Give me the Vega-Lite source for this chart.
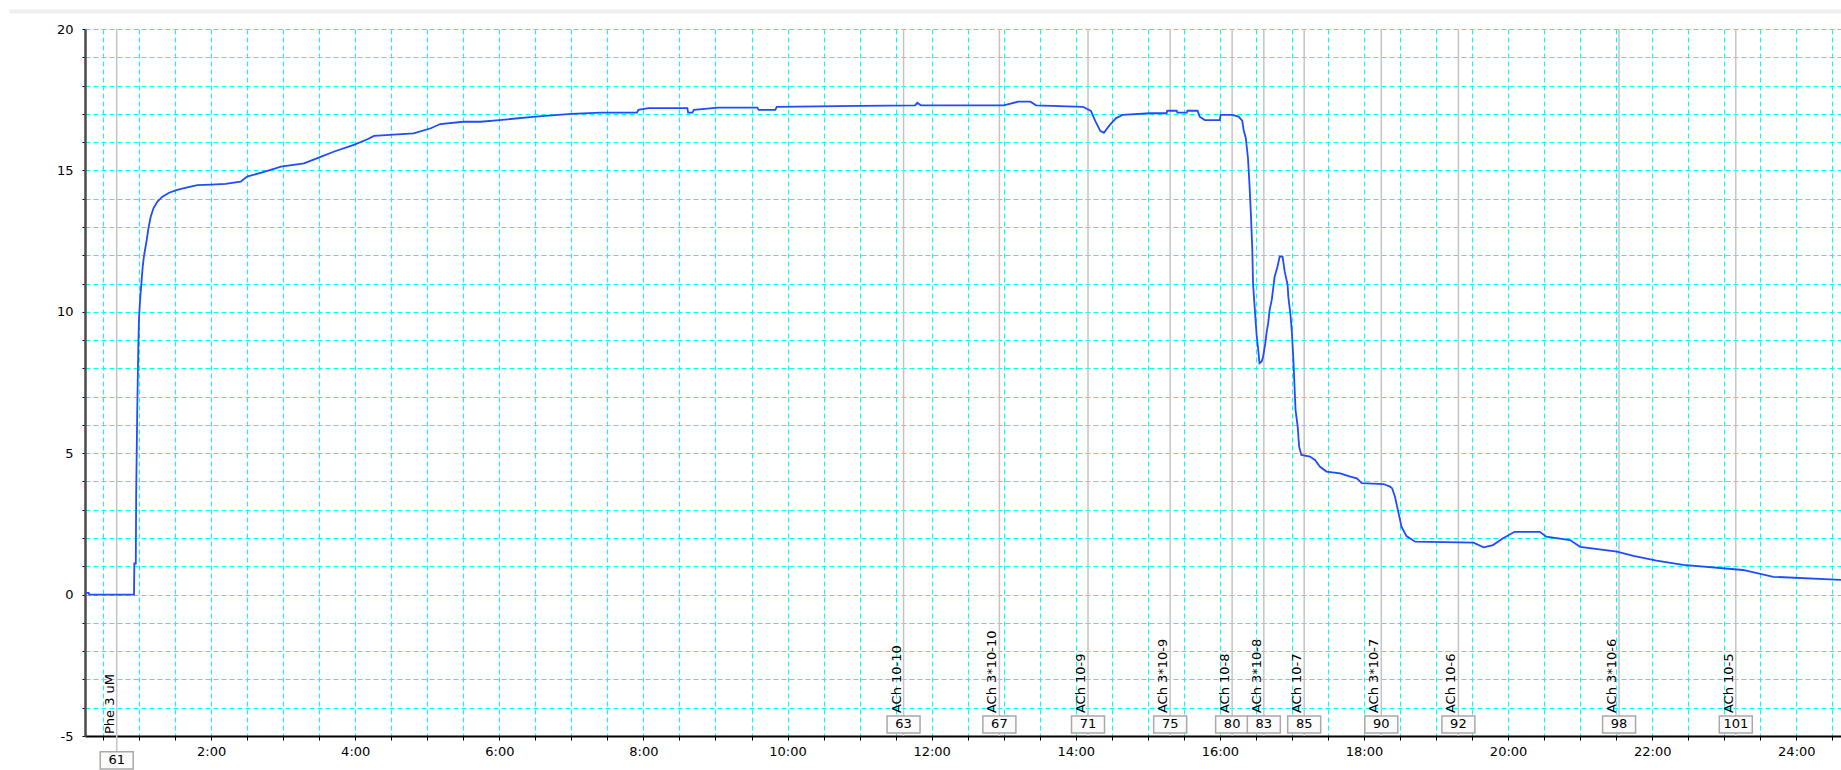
{
  "$schema": "https://vega.github.io/schema/vega-lite/v6.json",
  "width": 1756,
  "height": 707,
  "autosize": {"type": "none"},
  "padding": {"left": 85, "top": 29, "right": 0, "bottom": 34},
  "background": "white",
  "config": {
    "view": {"stroke": null},
    "font": "DejaVu Sans",
    "axis": {"labelFont": "DejaVu Sans", "labelFontSize": 13, "labelColor": "#000000", "title": null}
  },
  "datasets": {
    "curve": [
      {"t": 0.26, "v": 0.06}, {"t": 0.30, "v": 0.06}, {"t": 0.31, "v": 0.0}, {"t": 0.93, "v": 0.0},
      {"t": 0.935, "v": 1.1}, {"t": 0.955, "v": 1.1}, {"t": 0.96, "v": 3.5}, {"t": 0.975, "v": 6.5},
      {"t": 0.99, "v": 8.8}, {"t": 1.0, "v": 9.8}, {"t": 1.014, "v": 10.4}, {"t": 1.033, "v": 11.03},
      {"t": 1.051, "v": 11.6}, {"t": 1.07, "v": 12.0}, {"t": 1.107, "v": 12.54}, {"t": 1.13, "v": 12.95},
      {"t": 1.162, "v": 13.36}, {"t": 1.2, "v": 13.66}, {"t": 1.255, "v": 13.9}, {"t": 1.325, "v": 14.07},
      {"t": 1.416, "v": 14.21}, {"t": 1.53, "v": 14.31}, {"t": 1.67, "v": 14.4}, {"t": 1.81, "v": 14.48},
      {"t": 2.0, "v": 14.5}, {"t": 2.2, "v": 14.52}, {"t": 2.41, "v": 14.6}, {"t": 2.5, "v": 14.78},
      {"t": 2.78, "v": 14.98}, {"t": 2.97, "v": 15.13}, {"t": 3.29, "v": 15.25}, {"t": 3.52, "v": 15.48},
      {"t": 3.7, "v": 15.66}, {"t": 3.98, "v": 15.9}, {"t": 4.17, "v": 16.1}, {"t": 4.26, "v": 16.22},
      {"t": 4.81, "v": 16.31}, {"t": 5.05, "v": 16.49}, {"t": 5.18, "v": 16.64}, {"t": 5.5, "v": 16.72},
      {"t": 5.74, "v": 16.72}, {"t": 6.0, "v": 16.78}, {"t": 6.5, "v": 16.9}, {"t": 7.0, "v": 17.0},
      {"t": 7.41, "v": 17.04}, {"t": 7.91, "v": 17.04}, {"t": 7.93, "v": 17.14}, {"t": 8.07, "v": 17.2},
      {"t": 8.61, "v": 17.2}, {"t": 8.62, "v": 17.04}, {"t": 8.68, "v": 17.04}, {"t": 8.7, "v": 17.14},
      {"t": 9.04, "v": 17.22}, {"t": 9.58, "v": 17.22}, {"t": 9.6, "v": 17.14}, {"t": 9.83, "v": 17.14},
      {"t": 9.85, "v": 17.25}, {"t": 11.0, "v": 17.28}, {"t": 11.77, "v": 17.3}, {"t": 11.8, "v": 17.39},
      {"t": 11.85, "v": 17.3}, {"t": 13.0, "v": 17.3}, {"t": 13.2, "v": 17.43}, {"t": 13.37, "v": 17.43},
      {"t": 13.45, "v": 17.3}, {"t": 14.1, "v": 17.25}, {"t": 14.21, "v": 17.1}, {"t": 14.27, "v": 16.75},
      {"t": 14.34, "v": 16.4}, {"t": 14.39, "v": 16.33}, {"t": 14.47, "v": 16.6}, {"t": 14.56, "v": 16.85},
      {"t": 14.65, "v": 16.96}, {"t": 15.03, "v": 17.02}, {"t": 15.26, "v": 17.02}, {"t": 15.27, "v": 17.11},
      {"t": 15.4, "v": 17.11}, {"t": 15.41, "v": 17.04}, {"t": 15.54, "v": 17.04}, {"t": 15.55, "v": 17.11},
      {"t": 15.69, "v": 17.11}, {"t": 15.72, "v": 16.9}, {"t": 15.79, "v": 16.78}, {"t": 16.0, "v": 16.78},
      {"t": 16.01, "v": 16.96}, {"t": 16.17, "v": 16.96}, {"t": 16.26, "v": 16.9}, {"t": 16.31, "v": 16.76},
      {"t": 16.33, "v": 16.43}, {"t": 16.36, "v": 16.14}, {"t": 16.39, "v": 15.43}, {"t": 16.41, "v": 14.54},
      {"t": 16.43, "v": 13.48}, {"t": 16.45, "v": 12.19}, {"t": 16.46, "v": 11.0}, {"t": 16.49, "v": 9.89},
      {"t": 16.51, "v": 9.18}, {"t": 16.53, "v": 8.71}, {"t": 16.55, "v": 8.18}, {"t": 16.58, "v": 8.24},
      {"t": 16.6, "v": 8.41}, {"t": 16.63, "v": 8.88}, {"t": 16.65, "v": 9.3}, {"t": 16.67, "v": 9.59},
      {"t": 16.69, "v": 10.06}, {"t": 16.72, "v": 10.42}, {"t": 16.74, "v": 10.83}, {"t": 16.76, "v": 11.24},
      {"t": 16.8, "v": 11.6}, {"t": 16.83, "v": 11.95}, {"t": 16.87, "v": 11.95}, {"t": 16.9, "v": 11.42},
      {"t": 16.94, "v": 10.95}, {"t": 16.95, "v": 10.53}, {"t": 16.98, "v": 9.89}, {"t": 17.0, "v": 9.24},
      {"t": 17.02, "v": 8.3}, {"t": 17.04, "v": 7.12}, {"t": 17.05, "v": 6.53}, {"t": 17.08, "v": 5.94},
      {"t": 17.1, "v": 5.23}, {"t": 17.13, "v": 4.94}, {"t": 17.25, "v": 4.88}, {"t": 17.32, "v": 4.76},
      {"t": 17.39, "v": 4.52}, {"t": 17.48, "v": 4.35}, {"t": 17.67, "v": 4.29}, {"t": 17.81, "v": 4.17},
      {"t": 17.9, "v": 4.11}, {"t": 17.97, "v": 3.94}, {"t": 18.27, "v": 3.91}, {"t": 18.36, "v": 3.82},
      {"t": 18.39, "v": 3.76}, {"t": 18.43, "v": 3.46}, {"t": 18.48, "v": 2.88}, {"t": 18.52, "v": 2.4},
      {"t": 18.59, "v": 2.07}, {"t": 18.71, "v": 1.87}, {"t": 19.52, "v": 1.84}, {"t": 19.66, "v": 1.67},
      {"t": 19.79, "v": 1.75}, {"t": 19.93, "v": 1.99}, {"t": 20.09, "v": 2.22}, {"t": 20.44, "v": 2.22},
      {"t": 20.53, "v": 2.05}, {"t": 20.86, "v": 1.93}, {"t": 21.0, "v": 1.69}, {"t": 21.51, "v": 1.52},
      {"t": 21.74, "v": 1.37}, {"t": 22.06, "v": 1.2}, {"t": 22.43, "v": 1.05}, {"t": 23.26, "v": 0.87},
      {"t": 23.68, "v": 0.63}, {"t": 24.62, "v": 0.52}
    ],
    "events": [
      {"t": 0.69, "label": "Phe 3 uM", "num": 61},
      {"t": 11.61, "label": "ACh 10-10", "num": 63},
      {"t": 12.94, "label": "ACh 3*10-10", "num": 67},
      {"t": 14.17, "label": "ACh 10-9", "num": 71},
      {"t": 15.31, "label": "ACh 3*10-9", "num": 75},
      {"t": 16.17, "label": "ACh 10-8", "num": 80},
      {"t": 16.61, "label": "ACh 3*10-8", "num": 83},
      {"t": 17.17, "label": "ACh 10-7", "num": 85},
      {"t": 18.24, "label": "ACh 3*10-7", "num": 90},
      {"t": 19.31, "label": "ACh 10-6", "num": 92},
      {"t": 21.54, "label": "ACh 3*10-6", "num": 98},
      {"t": 23.16, "label": "ACh 10-5", "num": 101}
    ]
  },
  "layer": [
    {
      "data": {"name": "curve"},
      "mark": {"type": "line", "color": "#1f4cff", "strokeWidth": 1.6, "opacity": 0},
      "encoding": {
        "x": {
          "field": "t", "type": "quantitative",
          "scale": {"domain": [0.25, 24.62], "nice": false, "zero": false},
          "axis": {
            "values": [0.5,1,1.5,2,2.5,3,3.5,4,4.5,5,5.5,6,6.5,7,7.5,8,8.5,9,9.5,10,10.5,11,11.5,12,12.5,13,13.5,14,14.5,15,15.5,16,16.5,17,17.5,18,18.5,19,19.5,20,20.5,21,21.5,22,22.5,23,23.5,24,24.5],
            "tickCount": 200,
            "labelExpr": "datum.value % 2 == 0 ? datum.value + ':00' : ''",
            "labelOverlap": false, "labelFlush": false, "labelBound": false,
            "grid": true, "gridColor": "#00ffff", "gridDash": [5, 3], "gridWidth": 1, "gridOpacity": 1,
            "domainColor": "#000000", "domainWidth": 2,
            "tickColor": "#000000", "tickSize": 4, "tickWidth": 1,
            "labelPadding": 5
          }
        },
        "y": {
          "field": "v", "type": "quantitative",
          "scale": {"domain": [-5, 20], "nice": false, "zero": false},
          "axis": {
            "values": [-5,-4,-3,-2,-1,0,1,2,3,4,5,6,7,8,9,10,11,12,13,14,15,16,17,18,19,20],
            "tickCount": 200,
            "labelExpr": "datum.value % 5 == 0 ? '' + datum.value : ''",
            "labelOverlap": false, "labelFlush": false, "labelBound": false,
            "grid": true, "gridColor": "#00ffff", "gridDash": [5, 3], "gridWidth": 1, "gridOpacity": 1,
            "domainColor": "#4a4a4a", "domainWidth": 2.5,
            "tickColor": "#000000", "tickSize": 3, "tickWidth": 1,
            "labelPadding": 9
          }
        }
      }
    },
    {
      "data": {"values": [{"a": 1}]},
      "mark": {"type": "rule", "color": "#efefef", "strokeWidth": 4, "clip": false},
      "encoding": {"x": {"datum": -0.8}, "x2": {"datum": 24.62}, "y": {"datum": 20.62}}
    },
    {
      "data": {"name": "events"},
      "mark": {"type": "rule", "color": "#c4c4c4", "strokeWidth": 1.5},
      "encoding": {"x": {"field": "t", "type": "quantitative"}, "y": {"datum": 20}, "y2": {"datum": -5}}
    },
    {
      "data": {"name": "events"},
      "transform": [{"filter": "datum.num == 61"}],
      "mark": {"type": "rule", "color": "#c4c4c4", "strokeWidth": 1.5, "clip": false},
      "encoding": {"x": {"field": "t", "type": "quantitative"}, "y": {"datum": -5}, "y2": {"datum": -5.6}}
    },
    {
      "data": {"name": "curve"},
      "mark": {"type": "line", "color": "#1f4cff", "strokeWidth": 1.8},
      "encoding": {"x": {"field": "t", "type": "quantitative"}, "y": {"field": "v", "type": "quantitative"}}
    },
    {
      "data": {"name": "events"},
      "transform": [{"filter": "datum.num != 61"}],
      "mark": {"type": "rect", "width": 33, "fill": "#fbfbfb", "stroke": "#a9a9a9", "strokeWidth": 1.5},
      "encoding": {"x": {"field": "t", "type": "quantitative"}, "y": {"datum": -4.29}, "y2": {"datum": -4.89}}
    },
    {
      "data": {"name": "events"},
      "transform": [{"filter": "datum.num == 61"}],
      "mark": {"type": "rect", "width": 33, "fill": "#fbfbfb", "stroke": "#a9a9a9", "strokeWidth": 1.5, "clip": false},
      "encoding": {"x": {"field": "t", "type": "quantitative"}, "y": {"datum": -5.56}, "y2": {"datum": -6.17}}
    },
    {
      "data": {"name": "events"},
      "transform": [{"filter": "datum.num != 61"}],
      "mark": {"type": "text", "fontSize": 13, "font": "DejaVu Sans", "color": "#000000", "align": "center", "baseline": "middle"},
      "encoding": {"x": {"field": "t", "type": "quantitative"}, "y": {"datum": -4.59}, "text": {"field": "num"}}
    },
    {
      "data": {"name": "events"},
      "transform": [{"filter": "datum.num == 61"}],
      "mark": {"type": "text", "fontSize": 13, "font": "DejaVu Sans", "color": "#000000", "align": "center", "baseline": "middle", "clip": false},
      "encoding": {"x": {"field": "t", "type": "quantitative"}, "y": {"datum": -5.86}, "text": {"field": "num"}}
    },
    {
      "data": {"name": "events"},
      "transform": [{"filter": "datum.num != 61"}],
      "mark": {"type": "text", "fontSize": 13, "font": "DejaVu Sans", "color": "#000000", "angle": 270, "align": "left", "baseline": "alphabetic", "dy": -3},
      "encoding": {"x": {"field": "t", "type": "quantitative"}, "y": {"datum": -4.19}, "text": {"field": "label"}}
    },
    {
      "data": {"name": "events"},
      "transform": [{"filter": "datum.num == 61"}],
      "mark": {"type": "text", "fontSize": 13, "font": "DejaVu Sans", "color": "#000000", "angle": 270, "align": "left", "baseline": "alphabetic", "dy": -3},
      "encoding": {"x": {"field": "t", "type": "quantitative"}, "y": {"datum": -4.93}, "text": {"field": "label"}}
    }
  ]
}
